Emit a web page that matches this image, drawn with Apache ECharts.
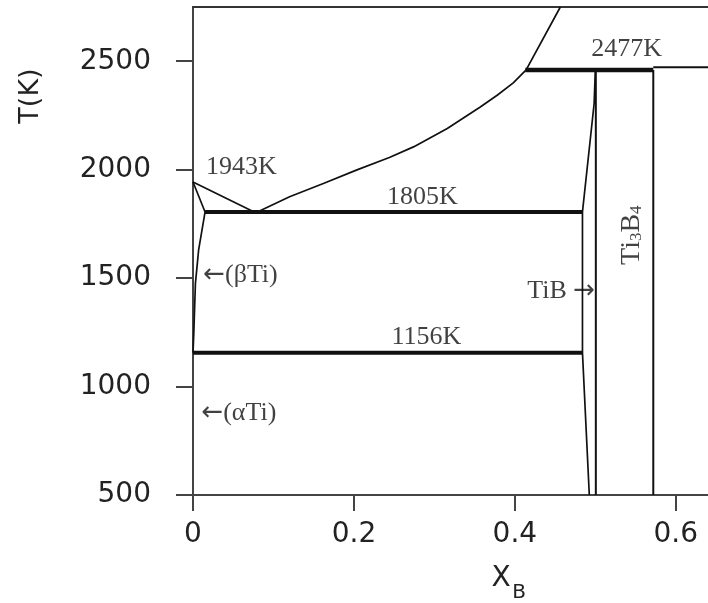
<!DOCTYPE html>
<html>
<head>
<meta charset="utf-8">
<script src="https://cdn.jsdelivr.net/npm/echarts@6/dist/echarts.min.js"></script>
<style>
  html, body { margin: 0; padding: 0; background: #fff; }
  #chart { width: 708px; height: 603px; }
</style>
</head>
<body>
<div id="chart"></div>
<script>
// Ti-B phase diagram: mole fraction of B against temperature
const xTicks = [0, 0.2, 0.4, 0.6]
const tTicks = [500, 1000, 1500, 2000, 2500]

// phase boundaries as [xB, T(K)]
const liquidusTi = [[0, 1943], [0.076, 1805]]
const liquidusB = [[0.080, 1805], [0.120, 1875], [0.162, 1936], [0.203, 1998], [0.244, 2056],
    [0.274, 2105], [0.316, 2190], [0.357, 2289], [0.378, 2343], [0.398, 2400], [0.414, 2460], [0.4565, 2750]]
const betaSolidus = [[0, 1943], [0.015, 1805]]
const betaSolvus = [[0.015, 1805], [0.007, 1630], [0.003, 1476], [0.001, 1246], [0, 1156]]
const eutectic = [[0.015, 1805], [0.484, 1805]]
const eutectoid = [[0, 1156], [0.484, 1156]]
const peritectic = [[0.413, 2460], [0.572, 2460]]
const peritecticRight = [[0.572, 2472], [0.66, 2472]]
const tibLeft = [[0.4925, 500], [0.484, 1156], [0.484, 1805], [0.4985, 2305], [0.500, 2460]]
const tibRight = [[0.5006, 500], [0.5006, 2460]]
const ti3b4 = [[0.572, 500], [0.572, 2460]]

// annotations: text, xB, T
const notes = [
    ['1943K', 0.060, 2012],
    ['1805K', 0.285, 1873],
    ['2477K', 0.539, 2555],
    ['1156K', 0.290, 1228],
    ['{a|\u2190}(\u03b2Ti)', 0.059, 1514],
    ['{a|\u2190}(\u03b1Ti)', 0.057, 878],
    ['TiB {a|\u2192}', 0.4575, 1440]
]
const ti3b4Note = [0.5447, 1698]

const ink = '#111'
const serif = 'Liberation Serif'
const sans = 'DejaVu Sans'

function boundary(data, width) {
    return {
        type: 'line',
        data: data,
        showSymbol: false,
        silent: true,
        lineStyle: { color: ink, width: width || 1.7 },
        z: 3
    }
}

const chart = echarts.init(document.getElementById('chart'))

const option = {
    animation: false,
    grid: { left: 193, top: 7, width: 517, height: 488 },
    xAxis: [{
        type: 'value',
        min: 0,
        max: 0.64,
        interval: 0.2,
        splitLine: { show: false },
        axisLine: { lineStyle: { color: '#444', width: 2 } },
        axisTick: { length: 16, customValues: xTicks, lineStyle: { color: '#444', width: 2 } },
        axisLabel: {
            customValues: xTicks,
            margin: 26,
            color: '#222',
            fontFamily: sans,
            fontSize: 28,
            formatter: v => String(v)
        }
    }, {
        type: 'value',
        position: 'top',
        min: 0,
        max: 0.64,
        splitLine: { show: false },
        axisLine: { lineStyle: { color: '#333', width: 2 } },
        axisTick: { show: false },
        axisLabel: { show: false }
    }],
    yAxis: {
        type: 'value',
        min: 500,
        max: 2750,
        interval: 500,
        splitLine: { show: false },
        axisLine: { lineStyle: { color: '#444', width: 2 } },
        axisTick: { length: 17, customValues: tTicks, lineStyle: { color: '#444', width: 2 } },
        axisLabel: {
            customValues: tTicks,
            margin: 42,
            color: '#222',
            fontFamily: sans,
            fontSize: 28,
            formatter: v => String(v)
        }
    },
    graphic: [{
        type: 'text',
        x: 31,
        y: 96,
        rotation: Math.PI / 2,
        style: {
            text: 'T(K)',
            fill: '#222',
            font: '27px "DejaVu Sans"',
            align: 'center',
            verticalAlign: 'middle'
        }
    }, {
        type: 'text',
        x: 501,
        y: 579,
        style: {
            text: 'X',
            fill: '#222',
            font: '28px "DejaVu Sans"',
            align: 'center',
            verticalAlign: 'middle'
        }
    }, {
        type: 'text',
        x: 519,
        y: 593,
        style: {
            text: 'B',
            fill: '#222',
            font: '20px "DejaVu Sans"',
            align: 'center',
            verticalAlign: 'middle'
        }
    }],
    series: [
        boundary(liquidusTi),
        boundary(liquidusB),
        boundary(betaSolidus),
        boundary(betaSolvus),
        boundary(eutectic, 4),
        boundary(eutectoid, 4),
        boundary(peritectic, 4.5),
        boundary(peritecticRight, 2),
        boundary(tibLeft),
        boundary(tibRight, 2),
        boundary(ti3b4, 2),
        {
            type: 'scatter',
            symbolSize: 0,
            silent: true,
            z: 5,
            data: notes.map(n => ({ value: [n[1], n[2]], name: n[0] })),
            label: {
                show: true,
                position: 'inside',
                formatter: p => p.name,
                color: ink,
                fontFamily: serif,
                fontSize: 26,
                rich: {
                    a: { fontFamily: sans, fontSize: 26, color: ink }
                }
            }
        },
        {
            type: 'scatter',
            symbolSize: 0,
            silent: true,
            z: 5,
            data: [{ value: ti3b4Note }],
            label: {
                show: true,
                position: 'inside',
                rotate: 90,
                formatter: 'Ti{s|3}B{s|4}',
                color: ink,
                fontFamily: serif,
                fontSize: 28,
                lineHeight: 28,
                rich: {
                    s: { fontFamily: serif, fontSize: 17, lineHeight: 12, verticalAlign: 'bottom', color: ink }
                }
            }
        }
    ]
}

chart.setOption(option)
</script>
</body>
</html>
